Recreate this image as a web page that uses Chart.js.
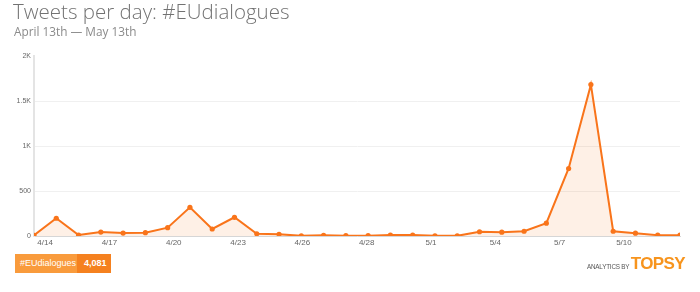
<!DOCTYPE html>
<html>
<head>
<meta charset="utf-8">
<script src="https://cdn.jsdelivr.net/npm/chart.js@4"></script>
<style>
  html, body { margin: 0; padding: 0; background: #fff; }
  body { width: 700px; height: 292px; position: relative; overflow: hidden; font-family: "Open Sans", sans-serif; }
  #chart { position: absolute; left: 0; top: 0; }
  .title { position: absolute; left: 13px; top: -4px; font-size: 20.5px; font-weight: 300; color: #727272; white-space: nowrap; line-height: 30px; }
  .subtitle { position: absolute; left: 14px; top: 22px; font-size: 11.8px; font-weight: 400; color: #8a8a8a; white-space: nowrap; line-height: 18px; }
  .badge { position: absolute; left: 15px; top: 254px; height: 19px; display: flex; font-family: "Liberation Sans", Arial, sans-serif; font-size: 9px; color: #fff; line-height: 19px; }
  .badge span { box-sizing: border-box; display: block; }
  .badge .name { background: #f99b3c; padding-left: 5px; width: 62px; }
  .badge .count { background: #f5811f; font-weight: bold; padding-left: 7px; width: 34px; }
  .brand { position: absolute; left: 587px; top: 252px; white-space: nowrap; }
  .brand .by { font-family: "Liberation Sans", Arial, sans-serif; font-size: 6.3px; color: #555; letter-spacing: -0.2px; }
  .brand .topsy { font-family: "Liberation Sans", Arial, sans-serif; font-weight: bold; font-size: 17px; color: #f7941d; letter-spacing: -0.6px; }
</style>
</head>
<body>
<canvas id="chart" width="700" height="292"></canvas>
<div class="title">Tweets per day: #EUdialogues</div>
<div class="subtitle">April 13th — May 13th</div>
<div class="badge"><span class="name">#EUdialogues</span><span class="count">4,081</span></div>
<div class="brand"><span class="by">ANALYTICS BY </span><span class="topsy">TOPSY</span></div>
<script>
// one point per day, 4/13 .. 5/12
const days = ["4/13","4/14","4/15","4/16","4/17","4/18","4/19","4/20","4/21","4/22",
              "4/23","4/24","4/25","4/26","4/27","4/28","4/29","4/30","5/1","5/2",
              "5/3","5/4","5/5","5/6","5/7","5/8","5/9","5/10","5/11","5/12"];
const tweets = [8, 197, 11, 44, 33, 37, 93, 319, 78, 208,
                24, 19, 2, 8, 4, 4, 11, 11, 2, 2,
                47, 42, 53, 142, 750, 1682, 53, 31, 9, 9];
const tickLabels = ["4/14","4/17","4/20","4/23","4/26","4/28","5/1","5/4","5/7","5/10"];
const yTicks = [0, 500, 1000, 1500, 2000];

const orange = "rgb(249, 116, 26)";

const ctx = document.getElementById("chart").getContext("2d");
new Chart(ctx, {
  type: "line",
  data: {
    datasets: [{
      label: "#EUdialogues",
      data: tweets.map((v, i) => ({ x: i, y: v })),
      borderColor: orange,
      backgroundColor: "rgba(249, 130, 50, 0.12)",
      borderWidth: 2,
      fill: "origin",
      tension: 0,
      pointRadius: 2.6,
      pointBackgroundColor: orange,
      pointBorderWidth: 0,
    }],
  },
  options: {
    responsive: false,
    animation: false,
    layout: { padding: { top: 56, right: 20, bottom: 36, left: 0 } },
    plugins: {
      legend: { display: false },
      tooltip: { enabled: false },
    },
    scales: {
      x: {
        type: "linear",
        min: 0,
        max: days.length - 1,
        afterBuildTicks: (scale) => {
          // labels sit between days, a bit under 3 days apart
          scale.ticks = tickLabels.map((_, i) => ({ value: 0.5 + i * 2.887 }));
        },
        afterFit: (scale) => { scale.height = 20; },
        grid: { display: false, drawTicks: false },
        border: { color: "#d6d6d6", width: 1 },
        ticks: {
          autoSkip: false,
          maxRotation: 0,
          padding: 2,
          color: "#666",
          font: { family: "Liberation Sans", size: 8 },
          callback: (val, i) => tickLabels[i],
        },
      },
      y: {
        min: 0,
        max: 2000,
        afterBuildTicks: (scale) => {
          scale.ticks = yTicks.map((v) => ({ value: v }));
        },
        afterFit: (scale) => { scale.width = 34; },
        grid: {
          drawTicks: false,
          color: (c) => (c.tick && c.tick.value === 2000 ? "rgba(0,0,0,0)" : "#f0f0f0"),
        },
        border: { color: "#e4e4e4", width: 2 },
        ticks: {
          padding: 3,
          color: "#666",
          font: { family: "Liberation Sans", size: 7 },
          callback: (val) => (val >= 1000 ? val / 1000 + "K" : val),
        },
      },
    },
  },
});
</script>
</body>
</html>
